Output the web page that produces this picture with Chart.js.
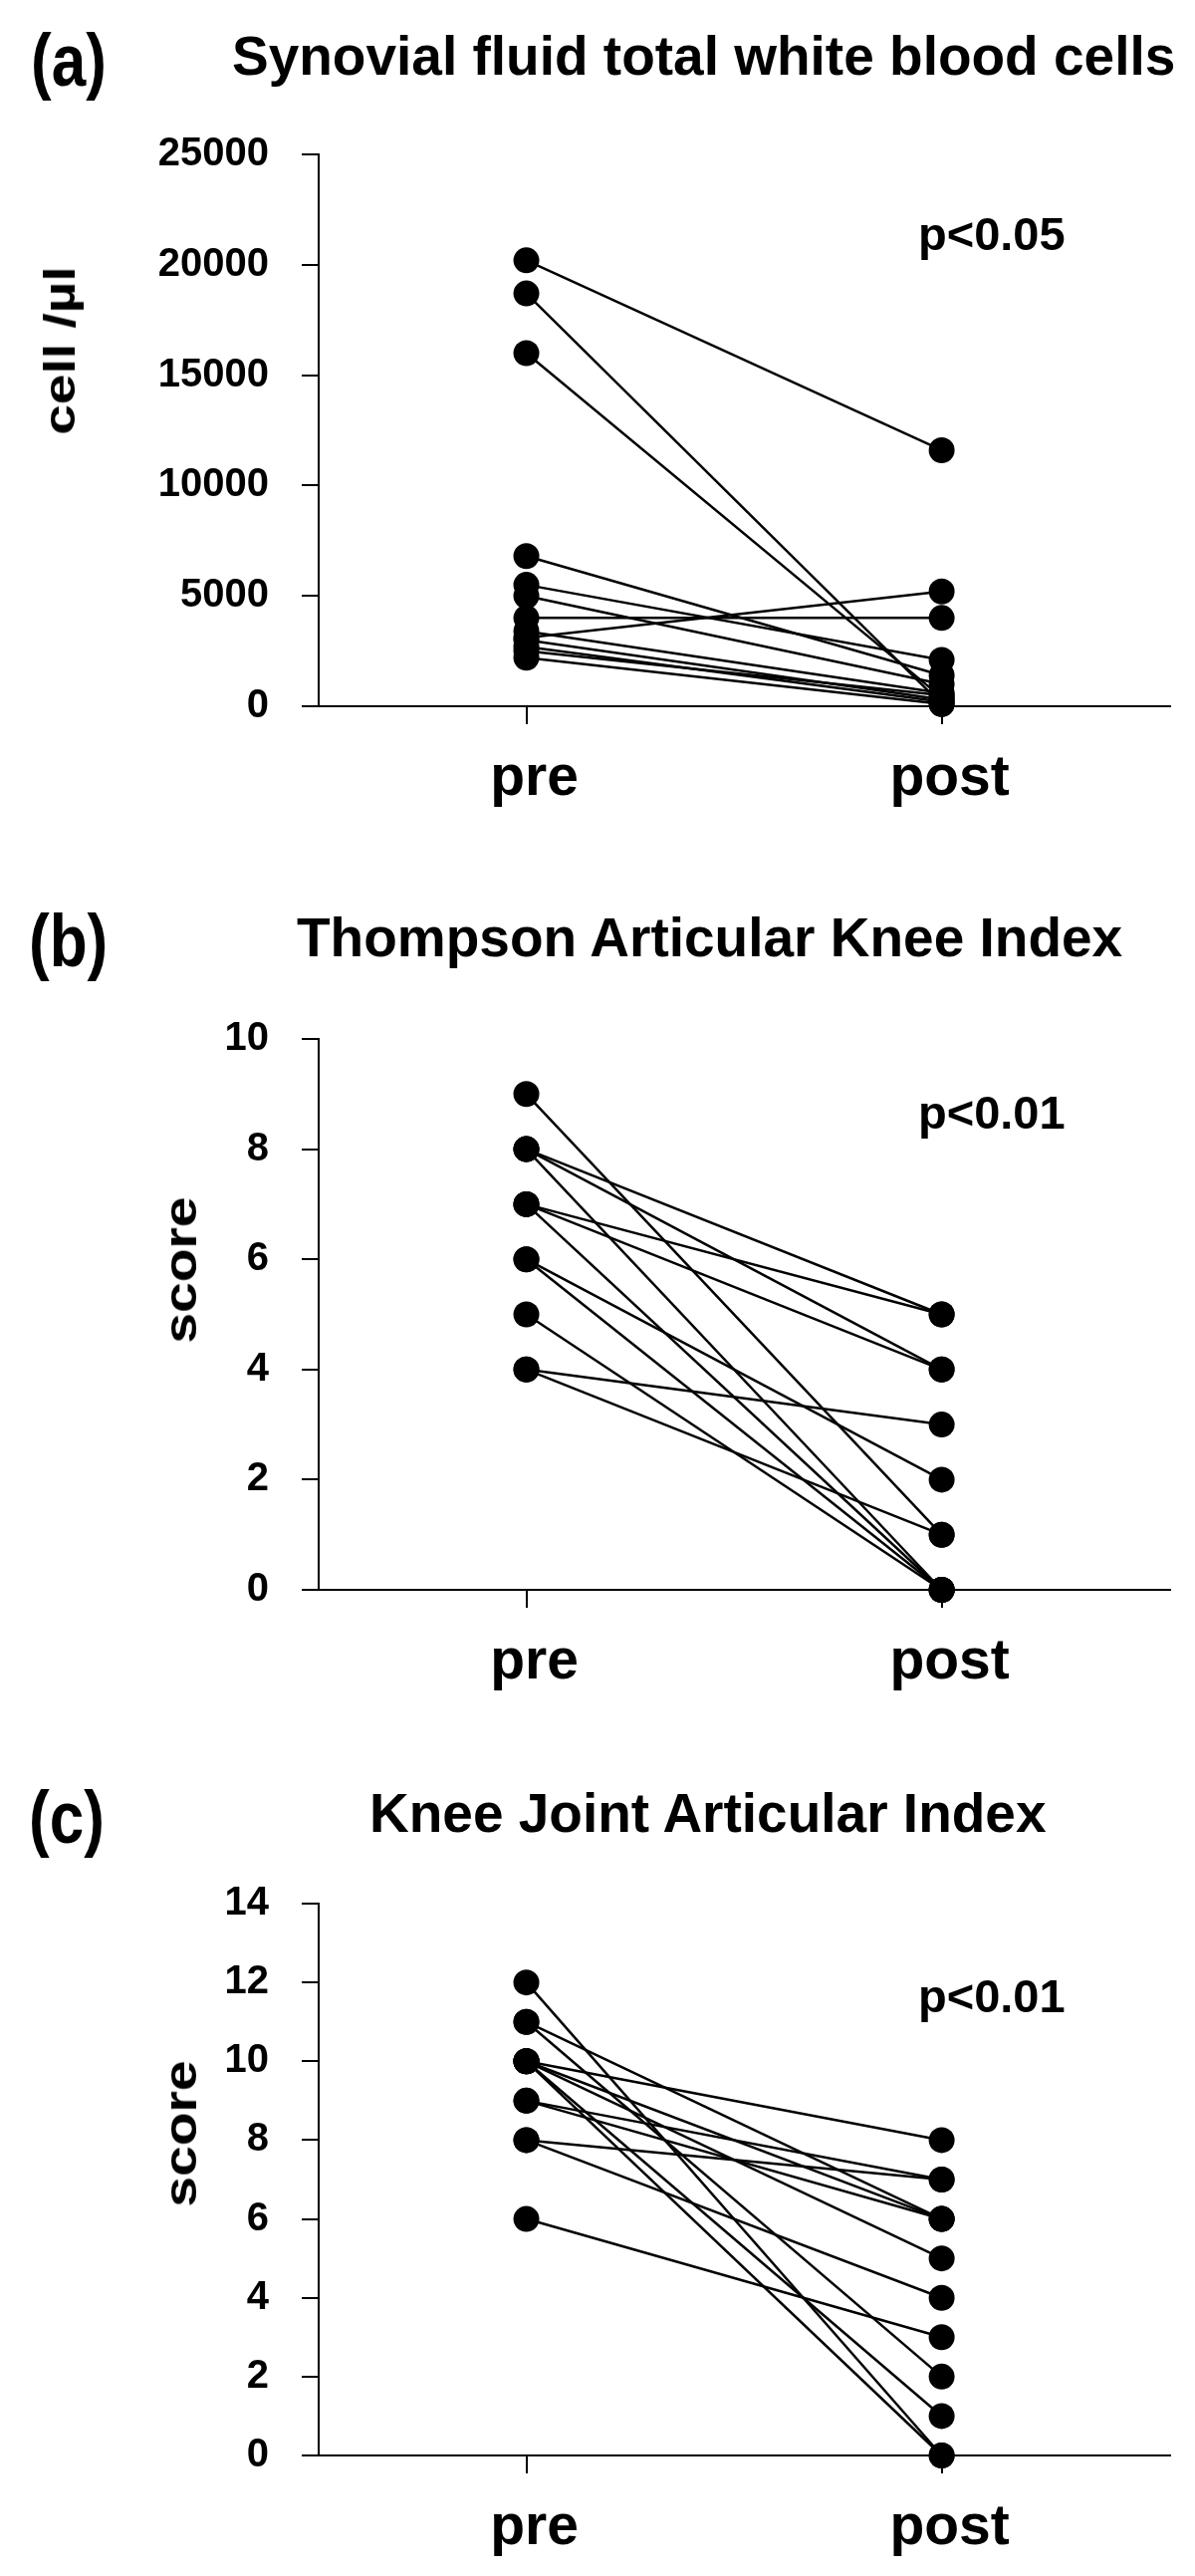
<!DOCTYPE html>
<html>
<head>
<meta charset="utf-8">
<script src="https://cdn.jsdelivr.net/npm/chart.js@4"></script>
<style>
  html, body { margin: 0; padding: 0; background: #fff; }
  #page { position: relative; width: 1200px; height: 2586px; overflow: hidden; background: #fff; }
  .cv { position: absolute; left: 0; }
  .txt { position: absolute; white-space: nowrap; font-family: 'Liberation Sans', Arial, sans-serif; font-weight: bold; color: #000; }
</style>
</head>
<body>
<div id="page">
  <div class="cv" style="top:0px;width:1200px;height:860px;"><canvas id="cA"></canvas></div>
  <div class="cv" style="top:860px;width:1200px;height:880px;"><canvas id="cB"></canvas></div>
  <div class="cv" style="top:1740px;width:1200px;height:846px;"><canvas id="cC"></canvas></div>
</div>
<script>
// ---------------- DATA ----------------
const xLabels = ['pre', 'post'];
const xTickValues = [1, 2];

// (a) Synovial fluid total white blood cells (cell/µl)
const wbcPre  = [20200, 18700, 16000, 6800, 5500, 5000, 4000, 3100, 3400, 3000, 2700, 2500, 2200];
const wbcPost = [11600,   100,   400, 1400, 2100, 1000, 4000, 5200,  600,  300,  200,  500,  100];
const wbcTicks = [0, 5000, 10000, 15000, 20000, 25000];

// (b) Thompson Articular Knee Index (score)
const takiPre  = [9, 8, 8, 8, 7, 7, 7, 6, 6, 5, 4, 4];
const takiPost = [1, 5, 4, 0, 5, 4, 0, 2, 0, 0, 3, 1];
const takiTicks = [0, 2, 4, 6, 8, 10];

// (c) Knee Joint Articular Index (score)
const kjaiPre  = [12, 11, 11, 10, 10, 10, 10, 10, 9, 9, 8, 8, 6];
const kjaiPost = [ 0,  6,  2,  8,  6,  5,  1,  0, 7, 6, 7, 4, 3];
const kjaiTicks = [0, 2, 4, 6, 8, 10, 12, 14];

// ---------------- STYLE / LAYOUT ----------------
const FONT = "'Liberation Sans', Arial, sans-serif";
const page = document.getElementById('page');

function fontAvailable(name) {
  const c = document.createElement('canvas').getContext('2d');
  c.font = "bold 50px monospace";
  const w1 = c.measureText('post pre (a)').width;
  c.font = "bold 50px '" + name + "', monospace";
  const w2 = c.measureText('post pre (a)').width;
  return Math.abs(w1 - w2) > 0.5;
}
const HAS_NARROW = fontAvailable('Liberation Sans Narrow');
const XLAB_FONT = HAS_NARROW
  ? { family: "'Liberation Sans Narrow', 'Liberation Sans', sans-serif", size: 70, weight: 'bold', lineHeight: 1.2 }
  : { family: FONT, size: 57, weight: 'bold', lineHeight: 1.2 };
const XLAB_PAD = HAS_NARROW ? 9 : 21;

function addText(txt, x, baseline, fs, sy) {
  const d = document.createElement('div');
  d.className = 'txt';
  d.textContent = txt;
  d.style.fontSize = fs + 'px';
  d.style.lineHeight = fs + 'px';
  d.style.left = x + 'px';
  d.style.top = (baseline - 0.8465 * fs) + 'px';
  if (sy && sy !== 1) {
    d.style.transformOrigin = '0px ' + (0.8465 * fs) + 'px';
    d.style.transform = 'scaleY(' + sy + ')';
  }
  page.appendChild(d);
}
function addVText(txt, cx, cy, fs, sLen) {
  const d = document.createElement('div');
  d.className = 'txt';
  d.textContent = txt;
  d.style.fontSize = fs + 'px';
  d.style.lineHeight = fs + 'px';
  d.style.left = cx + 'px';
  d.style.top = cy + 'px';
  d.style.transform = 'translate(-50%,-50%) rotate(-90deg) scaleX(' + (sLen || 1) + ')';
  page.appendChild(d);
}

function makeChart(id, pre, post, yTicks, yMax, canvasH, chartTop, chartBottom) {
  const lineSets = pre.map((v, i) => ({
    type: 'line',
    data: [{x: xTickValues[0], y: v}, {x: xTickValues[1], y: post[i]}],
    borderColor: '#000',
    borderWidth: 2.5,
    pointRadius: 0,
    pointHoverRadius: 0,
    fill: false,
    tension: 0,
    order: 2,
    clip: false
  }));
  const pts = [];
  pre.forEach((v) => pts.push({x: xTickValues[0], y: v}));
  post.forEach((v) => pts.push({x: xTickValues[1], y: v}));
  const pointSet = {
    type: 'scatter',
    data: pts,
    backgroundColor: '#000',
    borderColor: '#000',
    borderWidth: 0,
    pointRadius: 13,
    pointHoverRadius: 13,
    showLine: false,
    order: 1,
    clip: false
  };
  const ctx = document.getElementById(id);
  return new Chart(ctx, {
    type: 'line',
    data: { datasets: lineSets.concat([pointSet]) },
    options: {
      responsive: true,
      maintainAspectRatio: false,
      animation: false,
      events: [],
      layout: { padding: { top: chartTop, left: 0, right: 25, bottom: 0 } },
      plugins: { legend: { display: false }, tooltip: { enabled: false }, title: { display: false } },
      scales: {
        x: {
          type: 'linear',
          min: 0.5,
          max: 2.55,
          afterBuildTicks: (s) => { s.ticks = xTickValues.map(v => ({ value: v })); },
          afterFit: (s) => { s.height = canvasH - chartBottom; },
          ticks: {
            color: '#000',
            padding: XLAB_PAD,
            labelOffset: 8,
            font: XLAB_FONT,
            callback: (v) => xLabels[xTickValues.indexOf(v)]
          },
          grid: { display: true, drawOnChartArea: false, drawTicks: true, tickLength: 18, color: '#000', lineWidth: 2 },
          border: { display: true, color: '#000', width: 2 }
        },
        y: {
          type: 'linear',
          min: 0,
          max: yMax,
          afterBuildTicks: (s) => { s.ticks = yTicks.map(v => ({ value: v })); },
          afterFit: (s) => { s.width = 320; },
          ticks: {
            color: '#000',
            padding: 33,
            font: { family: FONT, size: 40, weight: 'bold', lineHeight: 1.2 },
            callback: (v) => String(v)
          },
          grid: { display: true, drawOnChartArea: false, drawTicks: true, tickLength: 17, color: '#000', lineWidth: 2 },
          border: { display: true, color: '#000', width: 2 }
        }
      }
    }
  });
}

makeChart('cA', wbcPre, wbcPost, wbcTicks, 25000, 860, 155, 709);
makeChart('cB', takiPre, takiPost, takiTicks, 10, 880, 183, 736);
makeChart('cC', kjaiPre, kjaiPost, kjaiTicks, 14, 846, 171, 725);

// ---------------- TEXT ----------------
addText('(a)', 31, 86, 62, 1.2);
addText('Synovial fluid total white blood cells', 233, 76, 55, 1);
addText('p<0.05', 922, 251, 47, 1);
addVText('cell /\u00B5l', 60, 352, 44, 1.25);

addText('(b)', 29, 970, 62, 1.2);
addText('Thompson Articular Knee Index', 298, 961, 55, 1);
addText('p<0.01', 922, 1133, 47, 1);
addVText('score', 181, 1275, 46, 1.2);

addText('(c)', 29, 1850, 62, 1.2);
addText('Knee Joint Articular Index', 371, 1840, 55, 1);
addText('p<0.01', 922, 2020, 47, 1);
addVText('score', 181, 2142, 46, 1.2);
</script>
</body>
</html>
